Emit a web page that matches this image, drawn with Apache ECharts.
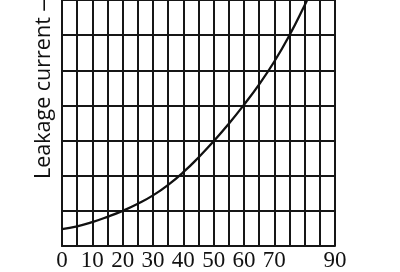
<!DOCTYPE html>
<html>
<head>
<meta charset="utf-8">
<script src="https://cdn.jsdelivr.net/npm/echarts@6/dist/echarts.min.js"></script>
<style>html,body{margin:0;padding:0;background:#fff}#c{width:400px;height:272px}</style>
</head>
<body>
<div id="c"></div>
<script>
// Data
const temperature = [0, 5, 10, 15, 20, 25, 30, 35, 40, 45, 50, 55, 60, 65, 70, 75, 80, 80.8];
const leakage = [0.48, 0.56, 0.68, 0.83, 1.0, 1.2, 1.44, 1.74, 2.10, 2.52, 2.98, 3.48, 4.02, 4.6, 5.25, 6.0, 6.85, 7.0];
const xTickLabels = ['0', '10', '20', '30', '40', '50', '60', '70', '90'];
const yAxisTitle = 'Leakage current —';

const chart = echarts.init(document.getElementById('c'), null, {renderer: 'canvas'});
const lineCol = '#161616';
chart.setOption({
  animation: false,
  backgroundColor: '#fff',
  grid: {left: 62, right: 65, top: 0, bottom: 26, containLabel: false},
  xAxis: {
    type: 'value', min: 0, max: 90, interval: 5,
    axisLine: {show: true, lineStyle: {color: lineCol, width: 2}},
    axisTick: {show: false},
    splitLine: {show: true, lineStyle: {color: lineCol, width: 2}},
    axisLabel: {
      margin: 3,
      fontFamily: 'Liberation Serif', fontSize: 23, color: '#111',
      formatter: v => xTickLabels.includes(String(v)) ? String(v) : ''
    }
  },
  yAxis: {
    type: 'value', min: 0, max: 7, interval: 1,
    axisLine: {show: true, lineStyle: {color: lineCol, width: 2}},
    axisTick: {show: false},
    axisLabel: {show: false},
    splitLine: {show: true, lineStyle: {color: lineCol, width: 2}}
  },
  graphic: [{
    type: 'text', x: 55, y: 179, rotation: Math.PI / 2,
    style: {text: yAxisTitle, fontFamily: 'Open Sans', fontSize: 21.5, fill: '#111', align: 'left', verticalAlign: 'bottom'}
  }],
  series: [{
    type: 'line', smooth: 0.5, symbol: 'none',
    data: temperature.map((t, i) => [t, leakage[i]]),
    lineStyle: {color: '#111', width: 2.3}
  }]
});
</script>
</body>
</html>
